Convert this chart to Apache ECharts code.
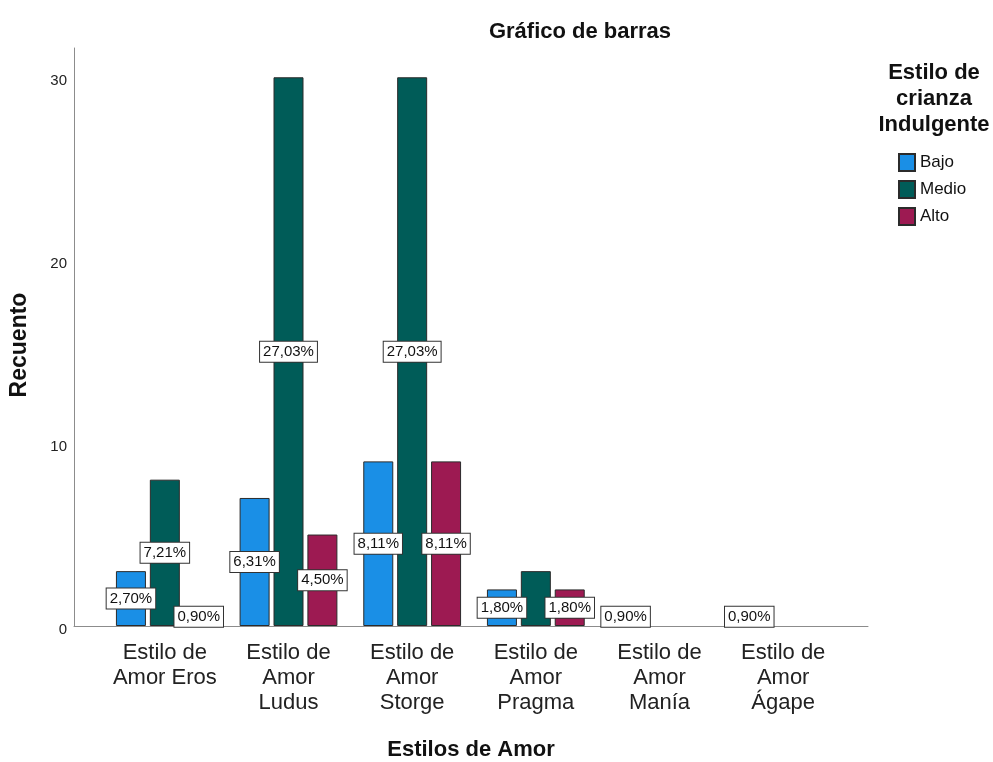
<!DOCTYPE html>
<html>
<head>
<meta charset="utf-8">
<script src="https://cdn.jsdelivr.net/npm/echarts@6/dist/echarts.min.js"></script>
<style>html,body{margin:0;padding:0;background:#fff}#c{width:993px;height:762px}</style>
</head>
<body>
<div id="c"></div>
<script>
const categories = ["Estilo de\nAmor Eros", "Estilo de\nAmor\nLudus", "Estilo de\nAmor\nStorge", "Estilo de\nAmor\nPragma", "Estilo de\nAmor\nManía", "Estilo de\nAmor\nÁgape"];
const seriesNames = ["Bajo", "Medio", "Alto"];
const bajo = [3, 7, 9, 2, 1, 1];
const medio = [8, 30, 30, 3, null, null];
const alto = [1, 5, 9, 2, null, null];
const pctBajo = ["2,70%", "6,31%", "8,11%", "1,80%", "0,90%", "0,90%"];
const pctMedio = ["7,21%", "27,03%", "27,03%", "", "", ""];
const pctAlto = ["0,90%", "4,50%", "8,11%", "1,80%", "", ""];
const yTicks = [0, 10, 20, 30];

const colors = ["#1a8fe6", "#005c58", "#9d1a52"];
const FONT = "'Liberation Sans', Arial, sans-serif";
const yMax = 31.6;

function mkSeries(name, vals, pcts, color) {
  return {
    name: name, type: 'bar', xAxisIndex: 0, yAxisIndex: 0,
    barWidth: 30, barGap: '13%',
    data: vals.map((v, i) => ({ value: v, label: { show: !!pcts[i] } })),
    itemStyle: { color: color, borderColor: '#2b2b2b', borderWidth: 1 },
    label: {
      show: true, position: 'inside',
      formatter: p => pcts[p.dataIndex] || '',
      backgroundColor: '#fff', borderColor: '#333', borderWidth: 1,
      padding: [3, 3, 2, 3], color: '#111', fontSize: 15, fontFamily: FONT
    },
    labelLayout: { hideOverlap: false }
  };
}

const chart = echarts.init(document.getElementById('c'), null, { renderer: 'canvas' });
chart.setOption({
  animation: false,
  textStyle: { fontFamily: FONT },
  title: [
    { text: 'Gráfico de barras', left: 575, top: 16, textAlign: 'center',
      textStyle: { fontSize: 22, fontWeight: 'bold', color: '#111', fontFamily: FONT } },
    { text: 'Estilo de\ncrianza\nIndulgente', left: 929, top: 55, textAlign: 'center',
      textStyle: { fontSize: 22, fontWeight: 'bold', color: '#111', lineHeight: 26, fontFamily: FONT } }
  ],
  legend: {
    data: seriesNames, orient: 'vertical', left: 893, top: 148,
    itemWidth: 16, itemHeight: 17, itemGap: 8, icon: 'rect',
    textStyle: { fontSize: 17, lineHeight: 17, color: '#111', fontFamily: FONT }
  },
  grid: [
    { left: 103, right: 148, top: 48, bottom: 136, outerBoundsMode: 'none' },
    { left: 74, right: 125, top: 48, bottom: 136, outerBoundsMode: 'none' }
  ],
  xAxis: [
    { type: 'category', gridIndex: 0, data: categories,
      axisLine: { show: false }, axisTick: { show: false },
      axisLabel: { fontSize: 22, color: '#222', lineHeight: 25, margin: 14, interval: 0, fontFamily: FONT } },
    { type: 'value', gridIndex: 1, min: 0, max: 1,
      axisLine: { show: true, onZero: false, lineStyle: { color: '#8c8c8c', width: 1 } },
      axisTick: { show: false }, axisLabel: { show: false }, splitLine: { show: false },
      name: 'Estilos de Amor', nameLocation: 'middle', nameGap: 113,
      nameTextStyle: { fontSize: 22, fontWeight: 'bold', color: '#111', fontFamily: FONT } }
  ],
  yAxis: [
    { type: 'value', gridIndex: 0, min: 0, max: yMax, interval: 10, show: false, splitLine: { show: false } },
    { type: 'value', gridIndex: 1, min: 0, max: yMax, interval: 10,
      axisLine: { show: true, lineStyle: { color: '#8c8c8c', width: 1 } },
      axisTick: { show: false }, splitLine: { show: false },
      axisLabel: { fontSize: 15, color: '#222', margin: 7, showMaxLabel: false,
        verticalAlign: 'top', lineHeight: 8,
        formatter: v => yTicks.indexOf(v) >= 0 ? String(v) : '', fontFamily: FONT },
      name: 'Recuento', nameLocation: 'middle', nameGap: 43, nameRotate: 90,
      nameTextStyle: { fontSize: 23, fontWeight: 'bold', color: '#111', padding: [0, 16, 0, 0], fontFamily: FONT } }
  ],
  series: [
    mkSeries(seriesNames[0], bajo, pctBajo, colors[0]),
    mkSeries(seriesNames[1], medio, pctMedio, colors[1]),
    mkSeries(seriesNames[2], alto, pctAlto, colors[2])
  ]
});
</script>
</body>
</html>
